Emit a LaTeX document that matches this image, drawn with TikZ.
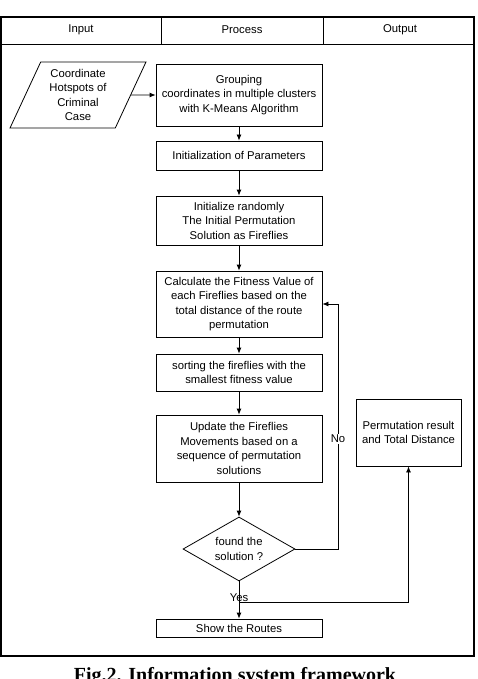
\documentclass[tikz,border=0pt]{standalone}
\usepackage{fontspec}
\setmainfont{Liberation Sans}
\newfontfamily\capfont{Liberation Serif}
\usetikzlibrary{shapes.geometric, arrows.meta}

\begin{document}
\begin{tikzpicture}[x=1pt, y=-1pt, >={Latex[length=6pt, width=5pt]},
    every node/.style={font=\fontsize{11.3}{14.5}\selectfont},
    procbox/.style={draw, line width=0.8pt, minimum width=166pt, align=center, inner sep=2pt},
    flow/.style={->, line width=0.8pt}]
        \useasboundingbox (0,0) rectangle (477,679);
        \clip (0,0) rectangle (477,679);

        % Frame and header
        \draw[line width=1.2pt] (1,17) rectangle (474,656);
        \draw[line width=0.8pt] (1,44) -- (474,44);
        \draw[line width=0.8pt] (161,17) -- (161,44);
        \draw[line width=0.8pt] (323,17) -- (323,44);
        \node (hin) at (81,30) {Input};
        \node (hpr) at (242,30) {Process};
        \node (hout) at (400,30) {Output};

        % Input
        \node[trapezium, draw, line width=0.8pt, trapezium stretches=true,
              trapezium left angle=65.6, trapezium right angle=114.4,
              minimum width=136pt, minimum height=66pt, align=center, inner sep=0pt]
              (inp) at (78,95) {Coordinate\\Hotspots of\\Criminal\\Case};

        % Process
        \node[procbox, minimum height=62pt] (grp) at (239,95)
              {Grouping\\coordinates in multiple clusters\\with K-Means Algorithm};
        \node[procbox, minimum height=29pt] (par) at (239,155.5) {Initialization of Parameters};
        \node[procbox, minimum height=49pt] (rnd) at (239,220.5)
              {Initialize randomly\\The Initial Permutation\\Solution as Fireflies};
        \node[procbox, minimum height=66pt] (fit) at (239,304)
              {Calculate the Fitness Value of\\each Fireflies based on the\\total distance of the route\\permutation};
        \node[procbox, minimum height=37pt] (srt) at (239,372.5)
              {sorting the fireflies with the\\smallest fitness value};
        \node[procbox, minimum height=67pt] (upd) at (239,448.5)
              {Update the Fireflies\\Movements based on a\\sequence of permutation\\solutions};
        \node[diamond, draw, line width=0.8pt, aspect=1.75, minimum width=112pt,
              minimum height=64pt, inner sep=0pt, align=center] (dec) at (239,549)
              {found the\\solution ?};
        \node[procbox, minimum height=18pt] (rte) at (239,628) {Show the Routes};

        % Output
        \node[draw, line width=0.8pt, minimum width=105pt, minimum height=67pt, align=center,
              inner sep=2pt] (res) at (408.5,432.5) {Permutation result\\and Total Distance};

        % Connectors
        \draw[flow] (inp.east) -- (grp.west);
        \draw[flow] (grp) -- (par);
        \draw[flow] (par) -- (rnd);
        \draw[flow] (rnd) -- (fit);
        \draw[flow] (fit) -- (srt);
        \draw[flow] (srt) -- (upd);
        \draw[flow] (upd) -- (dec);
        \coordinate (noc) at (338,549);
        \draw[flow] (dec.east) -- (noc) |- (fit.east);
        \node[fill=white, inner sep=1pt] (no) at (338,439) {No};
        \draw[flow] (dec.south) -- (rte.north);
        \coordinate (yesc) at (239,602);
        \draw[flow] (yesc) -| (res.south);
        \node[inner sep=0pt] (yes) at (239,598) {Yes};

        % Caption
        \node[font=\capfont\bfseries\fontsize{20}{24}\selectfont, anchor=base] (cap) at (235,681)
              {Fig.2. Information system framework};
    \end{tikzpicture}
\end{document}
